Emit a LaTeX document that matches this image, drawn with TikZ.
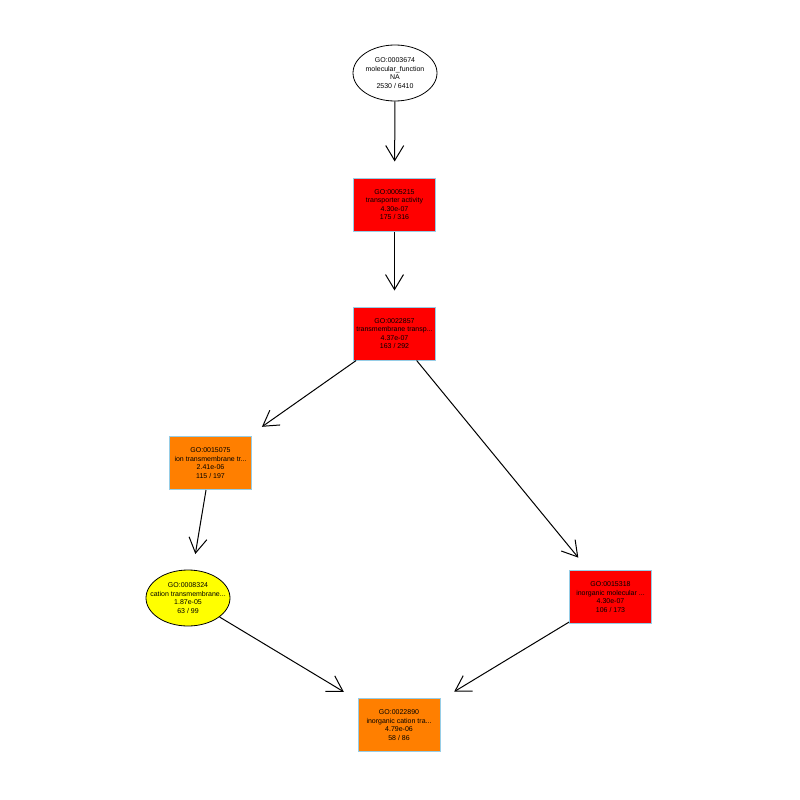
\documentclass[tikz,border=0pt]{standalone}
\usepackage{fontspec}
\setmainfont{Liberation Sans}
\usetikzlibrary{arrows.meta,shapes.geometric}
\definecolor{termred}{RGB}{255,0,0}
\definecolor{termorange}{RGB}{255,127,0}
\definecolor{termyellow}{RGB}{255,255,0}
\definecolor{termborder}{RGB}{150,205,230}
\begin{document}
\begin{tikzpicture}[x=1pt,y=-1pt,
  label/.style={font=\fontsize{7}{8.4}\selectfont, align=center, text=black, inner sep=0pt},
  termbox/.style={label, rectangle, draw=termborder, line width=1pt, minimum width=82pt, minimum height=53pt},
  termoval/.style={label, ellipse, draw=black, line width=0.8pt, inner xsep=-11pt, inner ysep=-4pt, minimum width=84pt, minimum height=56pt},
  link/.style={draw=black, line width=1pt, -{Straight Barb[length=15pt,width=18pt,line width=1pt]}, shorten >=16pt}
]
\useasboundingbox (0,0) rectangle (800,800);

% GO terms
\node[termoval, fill=white] (mf) at (395,73) {GO:0003674\\molecular\_function\\NA\\2530 / 6410};
\node[termbox, fill=termred] (ta) at (394.5,204.5) {GO:0005215\\transporter activity\\4.30e-07\\175 / 316};
\node[termbox, fill=termred] (tt) at (394.5,333.5) {GO:0022857\\transmembrane transp...\\4.37e-07\\163 / 292};
\node[termbox, fill=termorange] (it) at (210.5,463) {GO:0015075\\ion transmembrane tr...\\2.41e-06\\115 / 197};
\node[termoval, fill=termyellow] (ct) at (188,598) {GO:0008324\\cation transmembrane...\\1.87e-05\\63 / 99};
\node[termbox, fill=termred] (im) at (610.5,597) {GO:0015318\\inorganic molecular ...\\4.30e-07\\106 / 173};
\node[termbox, fill=termorange] (ic) at (399,725) {GO:0022890\\inorganic cation tra...\\4.79e-06\\58 / 86};

% is_a relations
\draw[link] (mf) -- (ta);
\draw[link] (ta) -- (tt);
\draw[link] (tt) -- (it);
\draw[link] (tt) -- (im);
\draw[link] (it) -- (ct);
\draw[link] (ct) -- (ic);
\draw[link] (im) -- (ic);
\end{tikzpicture}
\end{document}
